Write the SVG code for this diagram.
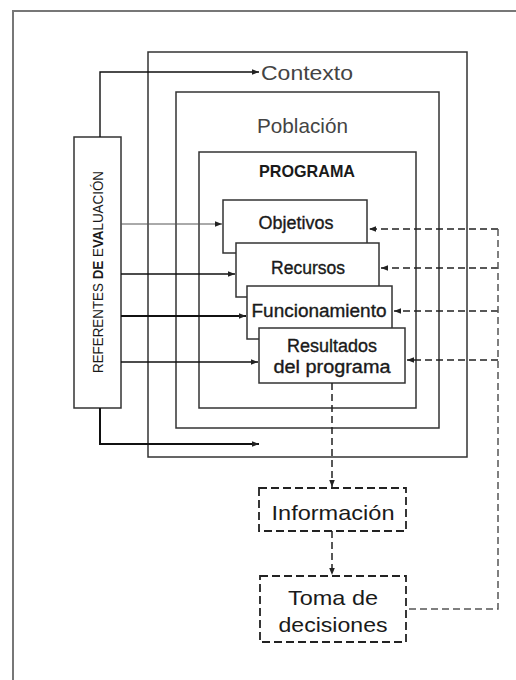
<svg xmlns="http://www.w3.org/2000/svg" width="516" height="680" viewBox="0 0 516 680">
<style>
.box{fill:#fff;stroke:#333;stroke-width:1.5}
.frame{fill:none;stroke:#777;stroke-width:2}
.dbox{fill:#fff;stroke:#222;stroke-width:1.8;stroke-dasharray:8 4}
.dash{fill:none;stroke:#222;stroke-width:1.5;stroke-dasharray:7 4}
.ln{fill:none;stroke:#111;stroke-width:2}
.mid{fill:none;stroke:#111;stroke-width:1.4}
.thin{fill:none;stroke:#555;stroke-width:1}
.t{font-family:"Liberation Sans",Arial,sans-serif;fill:#1a1a1a}
.w{stroke:#1a1a1a;stroke-width:0.35}
.g{fill:#444}
.m{text-anchor:middle}
</style>
<defs>
<marker id="ah" viewBox="0 0 10 10" refX="10" refY="5" markerWidth="7" markerHeight="7" markerUnits="userSpaceOnUse" orient="auto">
<path d="M0,1 L10,5 L0,9 Z" fill="#222"/>
</marker>
</defs>
<rect width="516" height="680" fill="#fff"/>
<path class="frame" d="M13,680 V11 H516"/>
<g id="contexto">
<rect class="box" x="148" y="52" width="319" height="405"/>
<text class="t g" x="261" y="80" font-size="21" textLength="92" lengthAdjust="spacingAndGlyphs">Contexto</text>
</g>
<g id="poblacion">
<rect class="box" x="176" y="92" width="263" height="336"/>
<text class="t g" x="257" y="133" font-size="21" textLength="91" lengthAdjust="spacingAndGlyphs">Población</text>
</g>
<g id="programa">
<rect class="box" x="199" y="152" width="217" height="256"/>
<text class="t" x="259" y="177" font-size="17" font-weight="bold" textLength="96" lengthAdjust="spacingAndGlyphs">PROGRAMA</text>
</g>
<g id="referentes">
<rect class="box" x="74" y="137" width="47" height="271"/>
<text class="t" transform="translate(103,373) rotate(-90)" font-size="14" textLength="202" lengthAdjust="spacingAndGlyphs">REFERENTES <tspan font-weight="bold">DE</tspan> E<tspan font-weight="bold">VA</tspan>LUACIÓN</text>
</g>
<g id="objetivos">
<rect class="box" x="223" y="200" width="144" height="53"/>
<text class="t w m" x="296" y="229" font-size="18" textLength="75" lengthAdjust="spacingAndGlyphs">Objetivos</text>
</g>
<g id="recursos">
<rect class="box" x="236" y="243" width="143" height="54"/>
<text class="t w m" x="308" y="274" font-size="18" textLength="74" lengthAdjust="spacingAndGlyphs">Recursos</text>
</g>
<g id="funcionamiento">
<rect class="box" x="247" y="286" width="145" height="53"/>
<text class="t w m" x="319" y="317" font-size="18" textLength="135" lengthAdjust="spacingAndGlyphs">Funcionamiento</text>
</g>
<g id="resultados">
<rect class="box" x="259" y="328" width="146" height="55"/>
<text class="t w m" x="332" y="352" font-size="18" textLength="90" lengthAdjust="spacingAndGlyphs">Resultados</text>
<text class="t w m" x="332" y="373" font-size="18" textLength="117" lengthAdjust="spacingAndGlyphs">del programa</text>
</g>
<g id="informacion">
<rect class="dbox" x="259" y="488" width="147" height="43"/>
<text class="t m" x="333" y="520" font-size="21" textLength="123" lengthAdjust="spacingAndGlyphs">Información</text>
</g>
<g id="toma">
<rect class="dbox" x="260" y="576" width="146" height="66"/>
<text class="t m" x="333" y="605" font-size="21" textLength="90" lengthAdjust="spacingAndGlyphs">Toma de</text>
<text class="t m" x="333" y="632" font-size="21" textLength="109" lengthAdjust="spacingAndGlyphs">decisiones</text>
</g>
<g id="connectors">
<path class="mid" d="M100,137 V72 H259" marker-end="url(#ah)"/>
<path class="ln" d="M100,408 V444 H259" marker-end="url(#ah)"/>
<path class="thin" d="M121,224 H222" marker-end="url(#ah)"/>
<path class="mid" d="M121,274 H235" marker-end="url(#ah)"/>
<path class="ln" d="M121,316 H246" marker-end="url(#ah)"/>
<path class="mid" d="M121,362 H258" marker-end="url(#ah)"/>
<path class="dash" d="M498,229 H369" marker-end="url(#ah)"/>
<path class="dash" d="M498,268 H381" marker-end="url(#ah)"/>
<path class="dash" d="M498,311 H394" marker-end="url(#ah)"/>
<path class="dash" d="M498,360 H407" marker-end="url(#ah)"/>
<path class="dash" d="M498,229 V609 H407" style="stroke:#555"/>
<path class="dash" d="M332,383 V487" marker-end="url(#ah)"/>
<path class="dash" d="M332,531 V575" marker-end="url(#ah)"/>
</g>
</svg>
